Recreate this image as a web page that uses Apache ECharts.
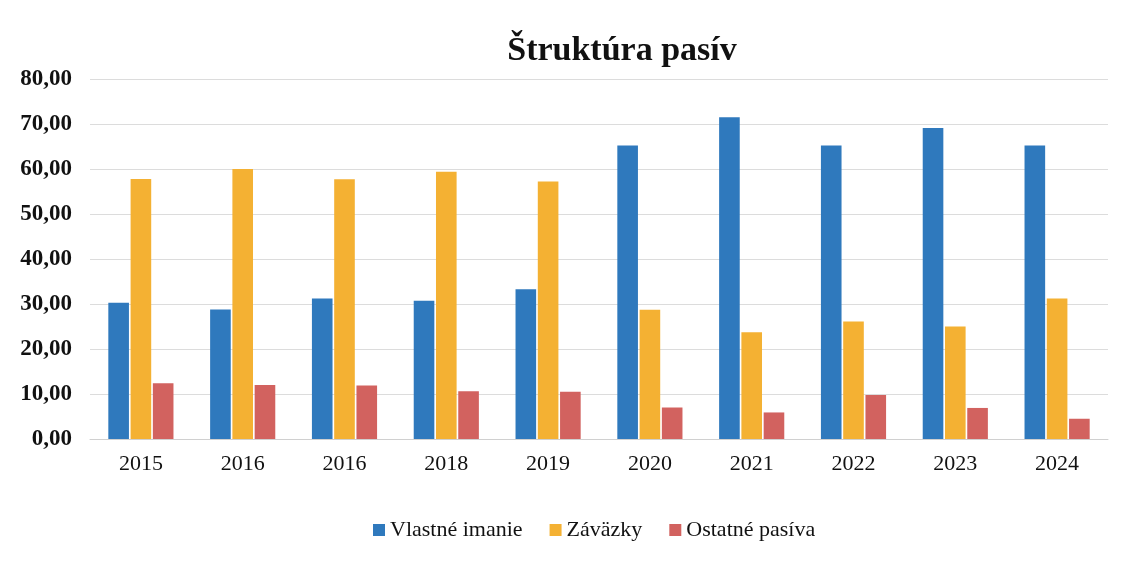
<!DOCTYPE html>
<html>
<head>
<meta charset="utf-8">
<script src="https://cdn.jsdelivr.net/npm/echarts@6/dist/echarts.min.js"></script>
<style>
  html, body { margin: 0; padding: 0; background: #fff; }
  #main { width: 1129px; height: 562px; }
</style>
</head>
<body>
<div id="main"></div>
<script>
// roky (v originale je 2016 dvakrat)
var years = ['2015', '2016', '2016', '2018', '2019', '2020', '2021', '2022', '2023', '2024'];
var vlastneImanie = [30.3, 28.8, 31.2, 30.7, 33.3, 65.2, 71.5, 65.2, 69.1, 65.2];
var zavazky = [57.8, 60.0, 57.7, 59.4, 57.2, 28.7, 23.7, 26.1, 25.0, 31.2];
var ostatnePasiva = [12.4, 12.0, 11.9, 10.6, 10.5, 7.0, 5.9, 9.8, 6.9, 4.5];

var myChart = echarts.init(document.getElementById('main'));
var serif = '"Liberation Serif", "DejaVu Serif", serif';

var option = {
    backgroundColor: '#fff',
    title: {
        text: 'Štruktúra pasív',
        left: 617,
        top: 29,
        textAlign: 'center',
        textStyle: {
            fontFamily: serif,
            fontSize: 34,
            fontWeight: 'bold',
            color: '#111'
        }
    },
    legend: {
        bottom: 16,
        left: 368,
        itemWidth: 12,
        itemHeight: 12,
        itemGap: 27,
        icon: 'rect',
        textStyle: {
            fontFamily: serif,
            fontSize: 22,
            color: '#111'
        },
        data: ['Vlastné imanie', 'Záväzky', 'Ostatné pasíva']
    },
    grid: {
        left: 90,
        right: 21,
        top: 79,
        bottom: 123
    },
    xAxis: {
        type: 'category',
        data: years,
        axisTick: { show: false },
        axisLine: { lineStyle: { color: '#d0d0d0' } },
        axisLabel: {
            fontFamily: serif,
            fontSize: 22,
            color: '#111',
            margin: 14
        }
    },
    yAxis: {
        type: 'value',
        min: 0,
        max: 80,
        interval: 10,
        axisLine: { show: false },
        axisTick: { show: false },
        splitLine: { lineStyle: { color: '#dcdcdc' } },
        axisLabel: {
            fontFamily: serif,
            fontSize: 23,
            fontWeight: 'bold',
            color: '#111',
            margin: 18,
            formatter: function (v) {
                return v.toFixed(2).replace('.', ',');
            }
        }
    },
    series: [
        {
            name: 'Vlastné imanie',
            type: 'bar',
            data: vlastneImanie,
            barGap: '8%',
            barCategoryGap: '36%',
            itemStyle: { color: '#2f79bd' }
        },
        {
            name: 'Záväzky',
            type: 'bar',
            data: zavazky,
            itemStyle: { color: '#f4b133' }
        },
        {
            name: 'Ostatné pasíva',
            type: 'bar',
            data: ostatnePasiva,
            itemStyle: { color: '#d2625f' }
        }
    ]
};

myChart.setOption(option);
</script>
</body>
</html>
